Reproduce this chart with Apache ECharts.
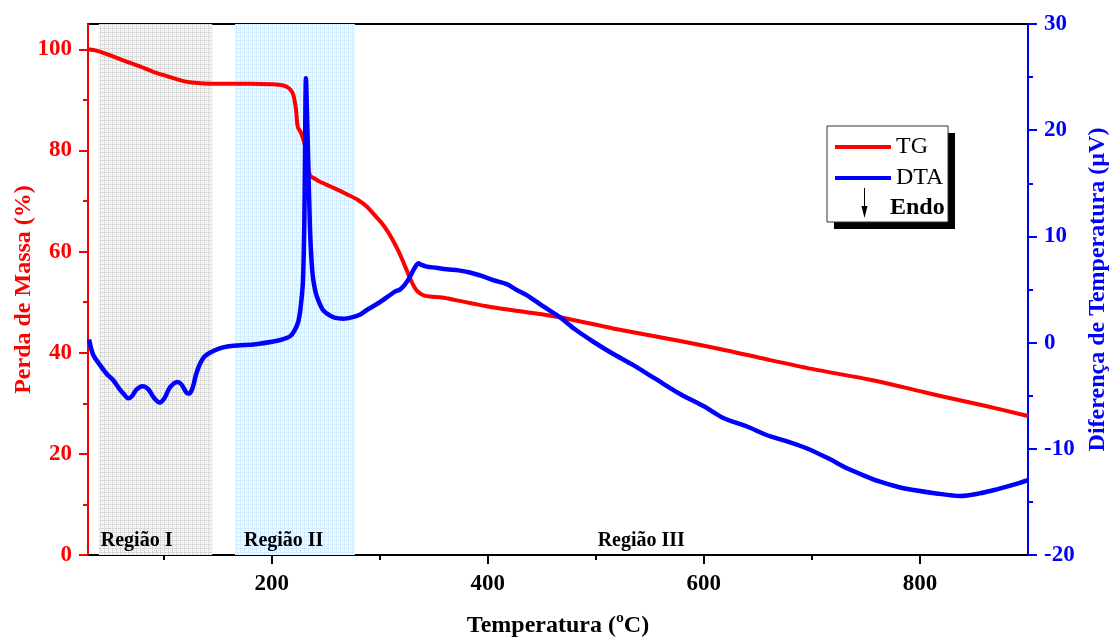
<!DOCTYPE html>
<html><head><meta charset="utf-8">
<script src="https://cdn.jsdelivr.net/npm/echarts@6/dist/echarts.min.js"></script>
<style>html,body{margin:0;padding:0;background:#fff}#c{width:1110px;height:637px}</style>
</head><body><div id="c"></div>
<script>
// ---- data ----
const tgTemp = [30,40,53,65,78,90,103,115,124,134,150,180,200,210,216,219.5,221.5,222.6,224.1,227.3,230.8,233,235.4,240,244.7,258.3,270,279.9,288,295.3,302,307.6,312,316.9,321.5,326.1,330,333.8,337.5,341.5,346.5,357.8,370,399,430,467,516,578,620,658,700,755,800,820,860,900];
const tgMass = [100.0,99.6,98.6,97.6,96.6,95.6,94.7,93.9,93.5,93.3,93.2,93.2,93.1,92.9,92.3,91.3,89.5,88.0,84.7,83.4,81.0,78.0,75.1,74.4,73.8,72.5,71.3,70.2,68.9,67.2,65.6,63.9,62.3,60.3,58.1,55.7,53.8,52.4,51.7,51.3,51.1,50.9,50.4,49.2,48.2,47.0,44.8,42.3,40.5,38.7,36.8,34.6,32.4,31.4,29.5,27.5];
const dtaTemp = [31,33,35,41,47,53,58,62.7,67.3,71,75,80.6,86,91,96.6,101,106,112.7,117,121,123.8,127,130,133.7,138,146,155,164.5,185,201.5,210,217,221,224.7,227,229,230.3,230.8,231.7,232.6,233.8,235.4,237,238.5,241,243.1,247.5,253,258,266.2,275,282,288,300,309.5,314,318.8,322,325,328,331,334,335.7,338,343.5,352,362,373,383.5,395,405,417.5,426,436,450,467,480,497.7,515,534.7,555,578,600,618,640,658,677,695,715,732.5,750,763,780,794,815,837,855,871,886,900];
const dtaSignal = [0.3,-0.6,-1.2,-2.1,-2.9,-3.5,-4.2,-4.8,-5.25,-5.0,-4.4,-4.1,-4.4,-5.2,-5.65,-5.2,-4.2,-3.7,-4.0,-4.7,-4.8,-4.2,-3.0,-2.0,-1.3,-0.8,-0.45,-0.3,-0.15,0.1,0.3,0.6,1.1,2.0,3.5,5.9,12,17.2,24.9,22,17.2,10.9,7.5,5.9,4.6,4.0,3.07,2.6,2.35,2.25,2.4,2.65,3.07,3.8,4.48,4.8,5.0,5.3,5.7,6.2,6.8,7.3,7.47,7.35,7.15,7.05,6.9,6.8,6.6,6.25,5.88,5.5,5.0,4.47,3.5,2.37,1.3,0.08,-1.0,-2.12,-3.4,-4.84,-6.0,-7.1,-7.9,-8.7,-9.3,-9.95,-10.9,-11.84,-12.6,-13.1,-13.6,-13.88,-14.2,-14.44,-14.2,-13.82,-13.4,-12.94];
const xTicks = [200,400,600,800];
const xMinorTicks = [100,300,500,700];
const massTicks = [0,20,40,60,80,100];
const massMinorTicks = [10,30,50,70,90];
const dtaTicks = [-20,-10,0,10,20,30];
const dtaMinorTicks = [-15,-5,5,15,25];
const regionNames = ['Região I','Região II','Região III'];
const regionStart = [40,166,498];
const regionEnd = [145,277,600];
const seriesNames = ['TG','DTA'];

// ---- patterns ----
function pattern(bg, line){
  const c = document.createElement('canvas'); c.width = 4; c.height = 4;
  const g = c.getContext('2d');
  g.fillStyle = bg; g.fillRect(0,0,4,4);
  g.fillStyle = line; g.fillRect(0,0,4,1); g.fillRect(0,0,1,4);
  g.fillRect(2,2,1,1);
  return {image: c, repeat: 'repeat'};
}
const FONT = '"Liberation Serif", "Times New Roman", serif';
const regionFills = [pattern('#f9f9f9','#d9d9d9'), pattern('#f5fbff','#d2ebff'), 'rgba(0,0,0,0)'];
const regionOffsets = [[-2,0],[5,0],[0,0]];

const tgData = tgTemp.map((t,i)=>[t,tgMass[i]]);
const dtaData = dtaTemp.map((t,i)=>[t,dtaSignal[i]]);

const chart = echarts.init(document.getElementById('c'), null, {renderer:'canvas'});
const bold = (size,color)=>({fontFamily:FONT,fontWeight:'bold',fontSize:size,color:color});

chart.setOption({
  animation:false,
  backgroundColor:'#fff',
  grid:{left:88,right:82,top:24,bottom:82,show:true,borderColor:'#000',borderWidth:2,backgroundColor:'transparent',
        containLabel:false,outerBoundsMode:'none'},
  legend:{
    data:[{name:seriesNames[0],icon:'rect'},{name:seriesNames[1],icon:'rect'}],
    orient:'vertical', left:835, top:135, padding:0,
    itemWidth:56, itemHeight:4, itemGap:7,
    textStyle:{fontFamily:FONT,fontSize:24,color:'#000'},
    z:10
  },
  xAxis:[
    {type:'value',min:30,max:900,position:'bottom',
     axisLine:{onZero:false,lineStyle:{color:'#000',width:2}},
     axisTick:{length:9,customValues:xTicks,lineStyle:{color:'#000',width:2}},
     axisLabel:Object.assign({customValues:xTicks,margin:18},bold(23,'#000')),
     splitLine:{show:false},
     name:'Temperatura (ºC)',nameLocation:'middle',nameGap:59,nameMoveOverlap:false,
     nameTextStyle:bold(24,'#000')},
    {type:'value',min:30,max:900,position:'bottom',
     axisLine:{show:false,onZero:false},
     axisTick:{length:5,customValues:xMinorTicks,lineStyle:{color:'#000',width:2}},
     axisLabel:{show:false},splitLine:{show:false}}
  ],
  yAxis:[
    {type:'value',min:0,max:105,position:'left',
     axisLine:{show:true,onZero:false,lineStyle:{color:'#ff0000',width:2}},
     axisTick:{show:true,length:9,customValues:massTicks,lineStyle:{color:'#ff0000',width:2}},
     axisLabel:Object.assign({customValues:massTicks,margin:16},bold(23,'#ff0000')),
     splitLine:{show:false},
     name:'Perda de Massa (%)',nameLocation:'middle',nameRotate:90,nameGap:52,nameMoveOverlap:false,
     nameTextStyle:bold(24,'#ff0000')},
    {type:'value',min:-20,max:30,position:'right',
     axisLine:{show:true,onZero:false,lineStyle:{color:'#0000ff',width:2}},
     axisTick:{show:true,length:9,customValues:dtaTicks,lineStyle:{color:'#0000ff',width:2}},
     axisLabel:Object.assign({customValues:dtaTicks,margin:16},bold(23,'#0000ff')),
     splitLine:{show:false},
     name:'Diferença de Temperatura (µV)',nameLocation:'middle',nameRotate:90,nameGap:58,nameMoveOverlap:false,
     nameTextStyle:bold(24,'#0000ff')},
    {type:'value',min:0,max:105,position:'left',
     axisLine:{show:false,onZero:false},
     axisTick:{show:true,length:5,customValues:massMinorTicks,lineStyle:{color:'#ff0000',width:2}},
     axisLabel:{show:false},splitLine:{show:false}},
    {type:'value',min:-20,max:30,position:'right',
     axisLine:{show:false,onZero:false},
     axisTick:{show:true,length:5,customValues:dtaMinorTicks,lineStyle:{color:'#0000ff',width:2}},
     axisLabel:{show:false},splitLine:{show:false}}
  ],
  graphic:[
    {type:'rect',shape:{x:834,y:133,width:121,height:96},style:{fill:'#000'},z:5},
    {type:'rect',shape:{x:827,y:126,width:121,height:96},style:{fill:'#fff',stroke:'#333',lineWidth:1},z:5},
    {type:'line',shape:{x1:864.5,y1:188,x2:864.5,y2:210},style:{stroke:'#000',lineWidth:1},z:6},
    {type:'polygon',shape:{points:[[861.5,206],[867.5,206],[864.5,218]]},style:{fill:'#000'},z:6},
    {type:'text',x:890,y:208,style:{text:'Endo',font:'bold 24px "Liberation Serif"',fill:'#000',verticalAlign:'middle'},z:6}
  ],
  series:[
    {name:seriesNames[0],type:'line',xAxisIndex:0,yAxisIndex:0,data:tgData,
     symbol:'none',smooth:0.3,color:'#ff0000',lineStyle:{color:'#ff0000',width:4},z:3,
     markArea:{silent:true,
       data:regionNames.map((n,i)=>[
         {name:n,xAxis:regionStart[i],itemStyle:{color:regionFills[i]},
          label:Object.assign({show:true,position:'insideBottomLeft',distance:4,offset:regionOffsets[i]},bold(20,'#000'))},
         {xAxis:regionEnd[i]}
       ])}
    },
    {name:seriesNames[1],type:'line',xAxisIndex:0,yAxisIndex:1,data:dtaData,
     symbol:'none',smooth:0.3,color:'#0000ff',lineStyle:{color:'#0000ff',width:4.5},z:4}
  ]
});
</script></body></html>
